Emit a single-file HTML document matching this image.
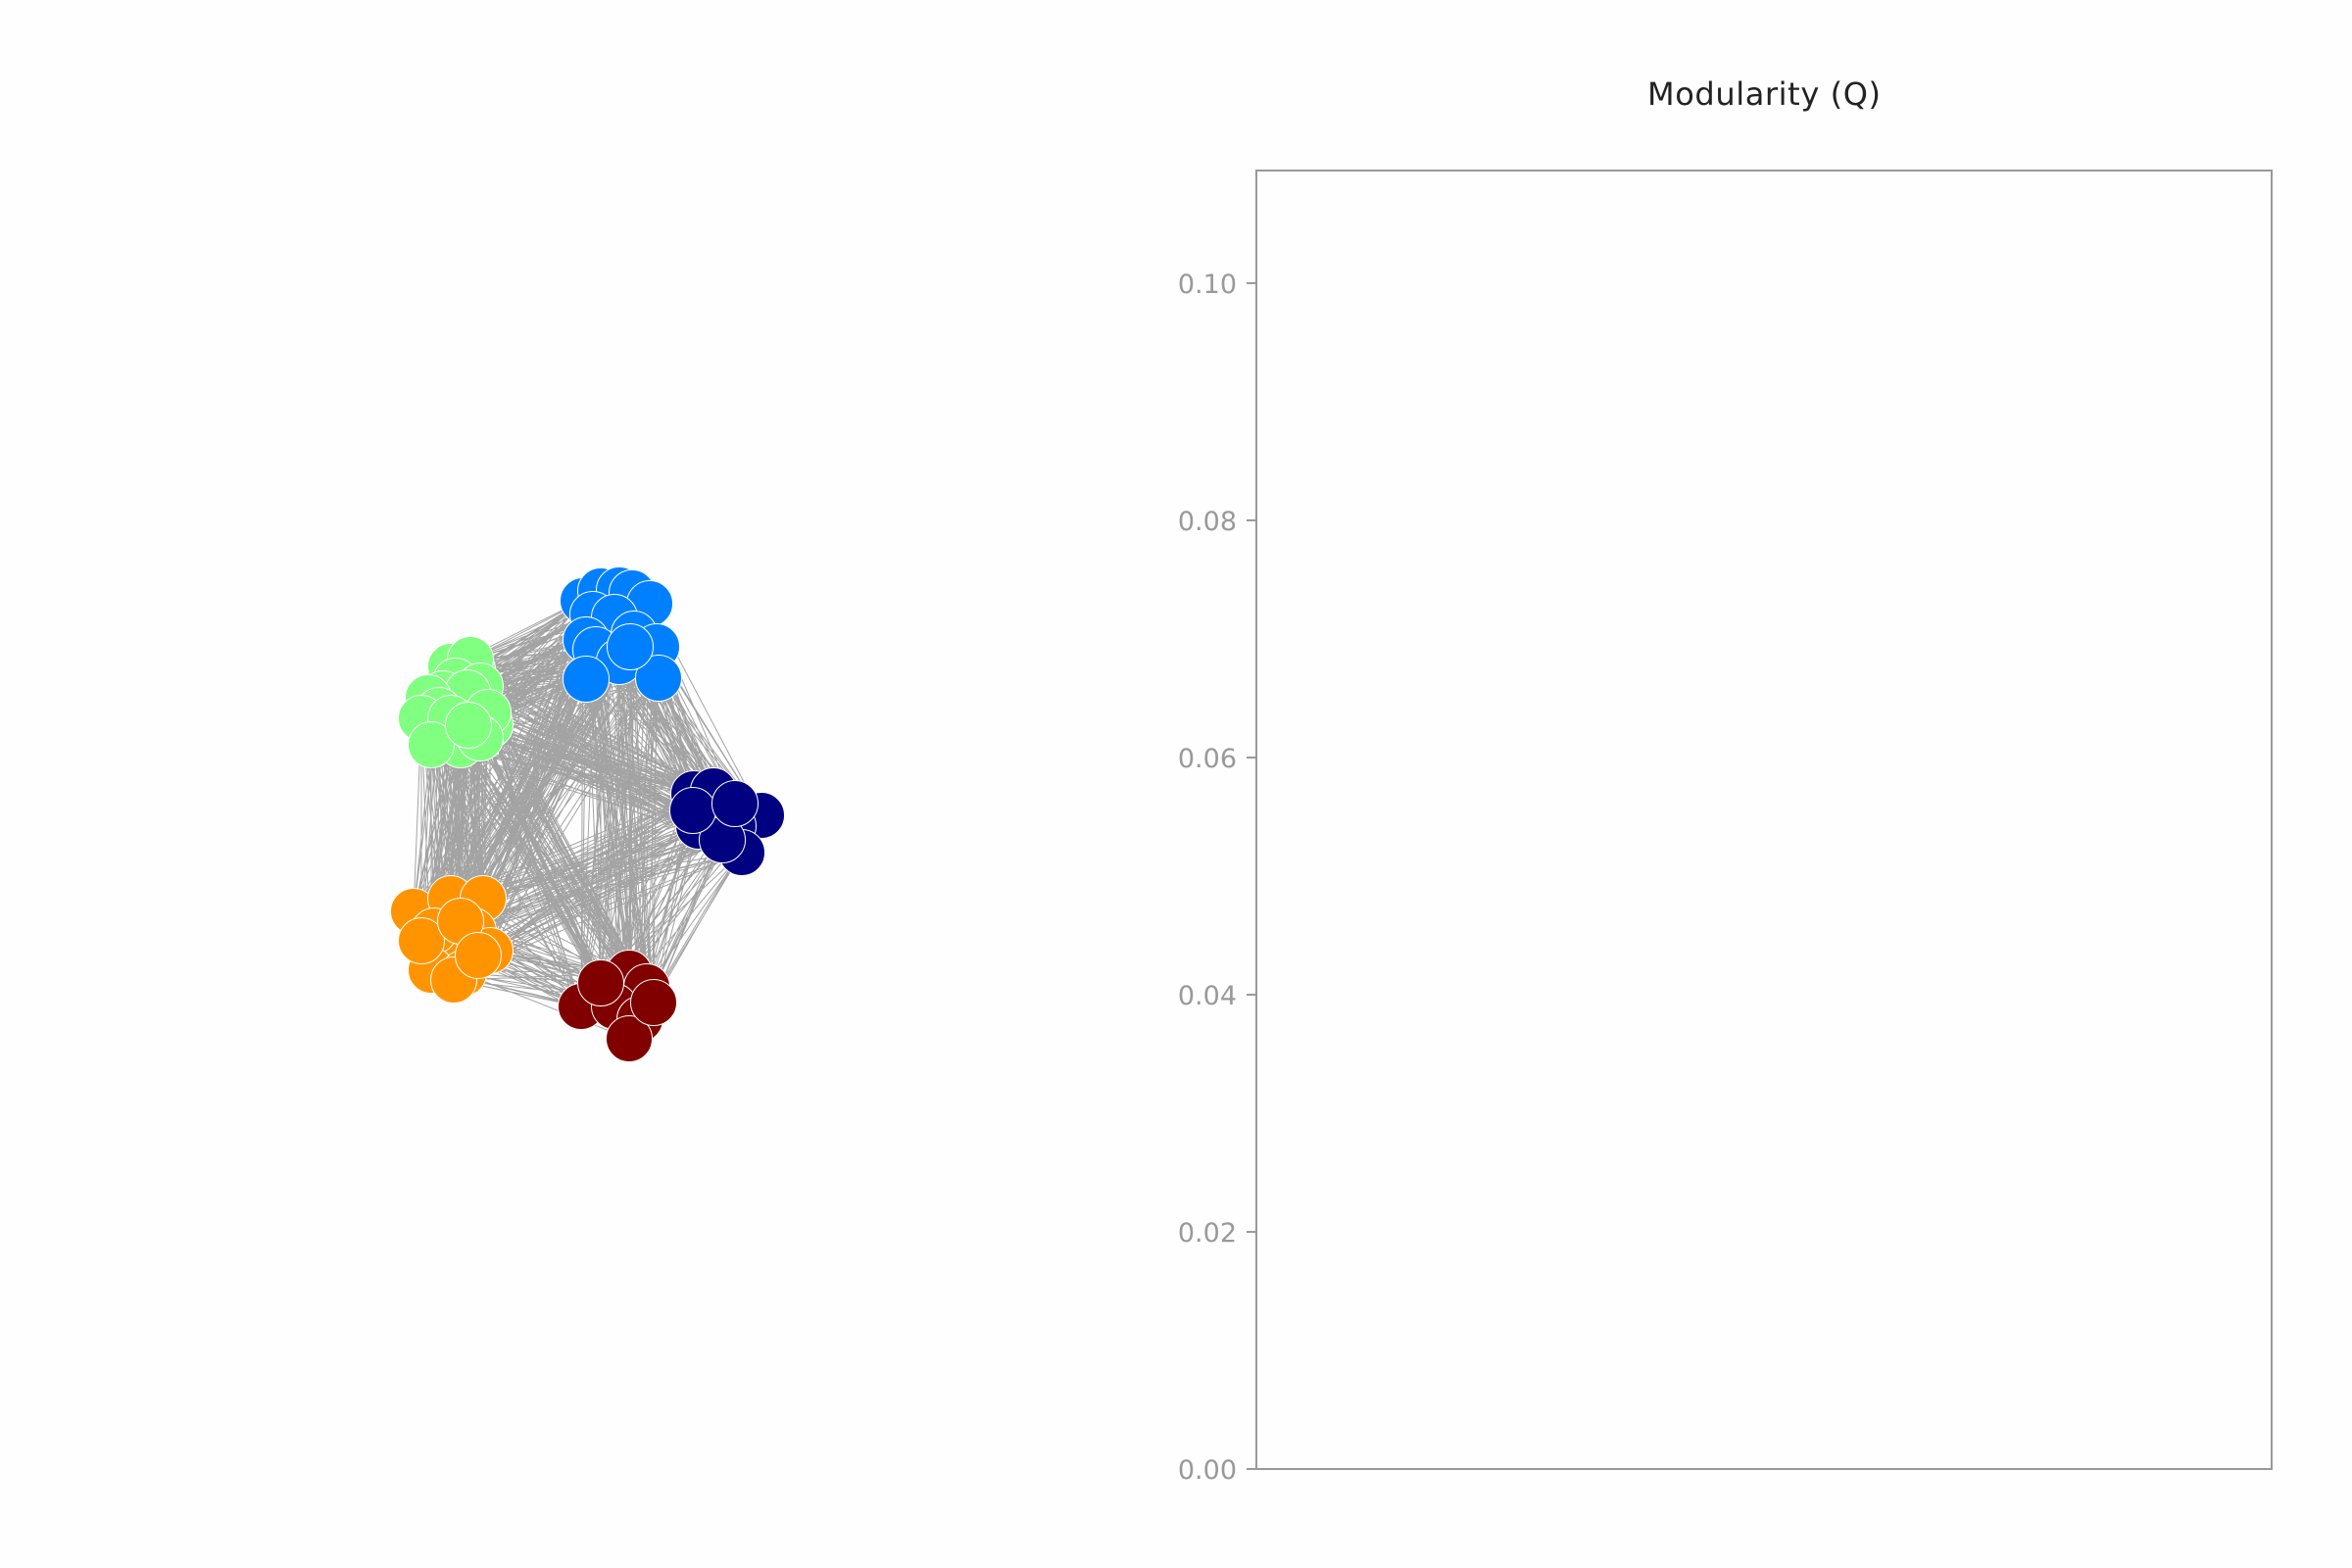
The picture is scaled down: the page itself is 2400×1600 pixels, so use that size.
<!DOCTYPE html>
<html><head><meta charset="utf-8"><style>
html,body{margin:0;padding:0;background:#fefefe;}
svg{display:block;font-family:"DejaVu Sans","Liberation Sans",sans-serif;}
</style></head><body>
<svg id="fig" width="2400" height="1600" viewBox="0 0 2400 1600" xmlns="http://www.w3.org/2000/svg">
<rect x="0" y="0" width="2400" height="1600" fill="#fefefe"/>
<g id="network">
  <g id="edges"></g>
  <g id="nodes"></g>
</g>
<g id="chart">
  <text x="1800" y="107" font-size="32" fill="#222" text-anchor="middle" textLength="238">Modularity (Q)</text>
  <rect x="1282" y="174" width="1036" height="1325" fill="none" stroke="#999" stroke-width="2"/>
  <g id="yticks"></g>
</g>
</svg>
<script>
// Node positions per community (pixel layout from graph drawing)
const communityColors = ["#0080ff", "#80ff80", "#000080", "#ff9400", "#800000"];
const communityNames = ["community-blue", "community-green", "community-navy", "community-orange", "community-darkred"];
const blueNodes = [[595,613],[613,603],[632,602],[645,605],[663,616],[605,627],[627,630],[647,647],[670,660],[598,653],[608,663],[632,675],[598,693],[672,692],[643,660]];
const greenNodes = [[482,683],[460,680],[480,673],[465,695],[490,700],[452,708],[477,707],[437,712],[448,725],[500,740],[430,733],[460,733],[498,727],[470,760],[440,760],[490,753],[478,740]];
const navyNodes = [[708,810],[728,807],[777,832],[748,843],[713,843],[757,870],[737,857],[707,827],[750,820]];
const orangeNodes = [[422,930],[460,917],[493,917],[483,950],[452,965],[443,950],[440,990],[473,993],[463,1000],[500,970],[430,960],[470,940],[488,975]];
const redNodes = [[642,993],[660,1007],[593,1027],[627,1027],[653,1040],[642,1060],[667,1023],[613,1003]];
const communities = [blueNodes, greenNodes, navyNodes, orangeNodes, redNodes];

// Y axis data
const yTickValues = [0.00, 0.02, 0.04, 0.06, 0.08, 0.10];
const yTickLabels = ["0.00", "0.02", "0.04", "0.06", "0.08", "0.10"];
const yMin = 0, yMax = 0.1095;
const modularityValues = [];

const NS = "http://www.w3.org/2000/svg";
const plotTop = 174, plotBottom = 1499, plotLeft = 1282;
function yScale(v){ return plotBottom - (v - yMin) / (yMax - yMin) * (plotBottom - plotTop); }

const yg = document.getElementById("yticks");
yTickValues.forEach((v, i) => {
  const y = yScale(v);
  const t = document.createElementNS(NS, "line");
  t.setAttribute("x1", plotLeft - 10); t.setAttribute("x2", plotLeft);
  t.setAttribute("y1", y); t.setAttribute("y2", y);
  t.setAttribute("stroke", "#999"); t.setAttribute("stroke-width", "2");
  
  
  yg.appendChild(t);
  const tx = document.createElementNS(NS, "text");
  tx.setAttribute("x", plotLeft - 20); tx.setAttribute("y", y + 10);
  tx.setAttribute("font-size", "27"); tx.setAttribute("fill", "#999");
  tx.setAttribute("text-anchor", "end");
  tx.textContent = yTickLabels[i];
  
  
  yg.appendChild(tx);
});

// Edges between communities
const eg = document.getElementById("edges");
let path = "";
for (let a = 0; a < communities.length; a++) {
  for (let b = a + 1; b < communities.length; b++) {
    communities[a].forEach((p, i) => {
      communities[b].forEach((q, j) => {
        if ((i + j) % 2 === 0) path += "M" + p[0] + " " + p[1] + "L" + q[0] + " " + q[1];
      });
    });
  }
}
const ep = document.createElementNS(NS, "path");
ep.setAttribute("d", path);
ep.setAttribute("stroke", "#999"); ep.setAttribute("stroke-width", "1");
ep.setAttribute("stroke-opacity", "0.9"); ep.setAttribute("fill", "none");


eg.appendChild(ep);

// Nodes
const ng = document.getElementById("nodes");
communities.forEach((nodes, c) => {
  const g = document.createElementNS(NS, "g");
  
  
  nodes.forEach(p => {
    const ci = document.createElementNS(NS, "circle");
    ci.setAttribute("cx", p[0]); ci.setAttribute("cy", p[1]); ci.setAttribute("r", "23.5");
    ci.setAttribute("fill", communityColors[c]);
    ci.setAttribute("stroke", "#fff"); ci.setAttribute("stroke-width", "1");
    
    
    g.appendChild(ci);
  });
  ng.appendChild(g);
});
</script>
</body></html>
